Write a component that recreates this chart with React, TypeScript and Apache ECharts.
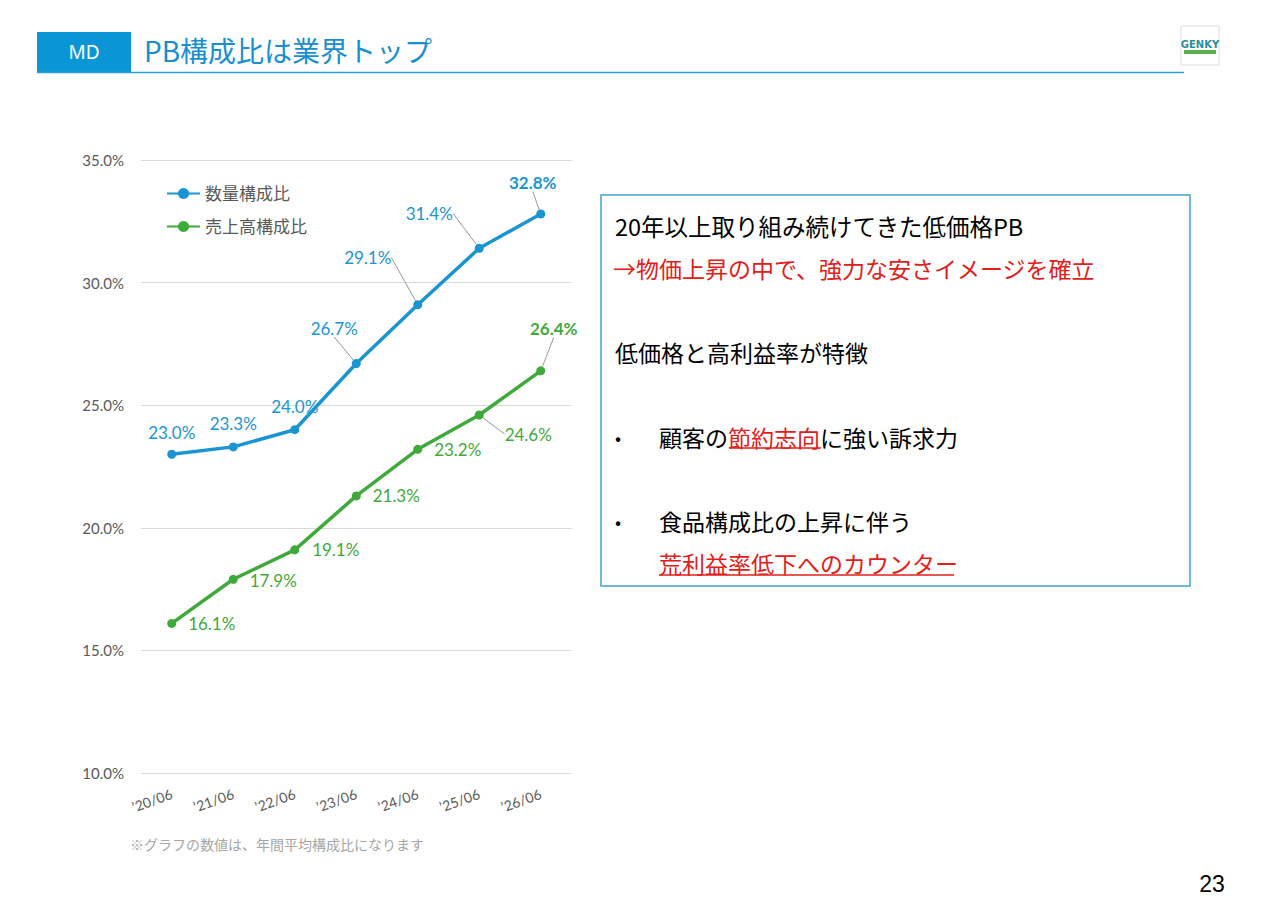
import React, { useEffect, useRef } from "react";
import * as echarts from "echarts";

const categories = ["’20/06", "’21/06", "’22/06", "’23/06", "’24/06", "’25/06", "’26/06"];
const qtyRatio = [23.0, 23.3, 24.0, 26.7, 29.1, 31.4, 32.8];
const salesRatio = [16.1, 17.9, 19.1, 21.3, 23.2, 24.6, 26.4];
const seriesNames = ["数量構成比", "売上高構成比"];
const yMin = 10;
const yMax = 35;
const yStep = 5;

// label centre offsets from each point (layout only)
const qtyLabelOffsets: [number, number][] = [
  [0, -22], [0, -23], [0, -23], [-22, -35], [-50, -47], [-50, -35], [-8, -31],
];
const salesLabelOffsets: [number, number][] = [
  [40, 0], [40, 1], [41, 0], [40, 0], [40, 0], [49, 19], [13, -42],
];
const qtyLeader = [3, 4, 5, 6];
const salesLeader = [5, 6];
const boldIndex = 6;

const BLUE = "#1b94d2";
const GREEN = "#3fa93a";
const RED = "#e0201a";
const GRAY = "#595959";
const FONT = "Lato, 'Noto Sans CJK JP', sans-serif";
const JP = "'Noto Sans CJK JP', sans-serif";

function buildSeries(
  name: string,
  values: number[],
  color: string,
  offsets: [number, number][],
  leaders: number[]
) {
  return {
    type: "line",
    name,
    data: values.map((v, i) => ({
      value: v,
      label: i === boldIndex ? { fontWeight: "bold" } : undefined,
      labelLine: leaders.includes(i)
        ? { show: true, lineStyle: { color: "#9a9a9a", width: 1 } }
        : undefined,
    })),
    symbol: "circle",
    symbolSize: 9,
    lineStyle: { width: 3.5, color },
    itemStyle: { color },
    emphasis: { disabled: true },
    label: {
      show: true,
      color,
      fontSize: 17,
      fontFamily: FONT,
      formatter: (p: any) => Number(p.value).toFixed(1) + "%",
    },
    labelLine: { show: false, lineStyle: { color: "#9a9a9a", width: 1 } },
    labelLayout: (p: any) => {
      const o = offsets[p.dataIndex] || [0, 0];
      return {
        x: p.rect.x + p.rect.width / 2 + o[0],
        y: p.rect.y + p.rect.height / 2 + o[1],
        align: "center",
        verticalAlign: "middle",
      };
    },
  };
}

function txt(x: number, y: number, text: string, fill: string, size: number, extra: any = {}) {
  return {
    type: "text",
    x,
    y,
    style: {
      text,
      fill,
      fontSize: size,
      fontFamily: JP,
      verticalAlign: "middle",
      align: "left",
      ...extra,
    },
  };
}

export default function App() {
  const ref = useRef<HTMLDivElement>(null);
  useEffect(() => {
    if (!ref.current) return;
    const chart = echarts.init(ref.current, undefined, { renderer: "svg" });
    chart.setOption({
      animation: false,
      backgroundColor: "#ffffff",
      textStyle: { fontFamily: FONT },
      grid: { left: 141, right: 708.5, top: 160, bottom: 131, containLabel: false },
      legend: {
        orient: "vertical",
        left: 166,
        top: 185,
        padding: 0,
        itemWidth: 33,
        itemHeight: 14,
        itemGap: 16,
        data: seriesNames,
        textStyle: { color: GRAY, fontSize: 17, fontFamily: FONT },
      },
      xAxis: {
        type: "category",
        data: categories,
        boundaryGap: true,
        axisLine: { show: false },
        axisTick: { show: false },
        axisLabel: { rotate: 20, margin: 20, color: GRAY, fontSize: 14, fontFamily: FONT },
      },
      yAxis: {
        type: "value",
        min: yMin,
        max: yMax,
        interval: yStep,
        axisLine: { show: false },
        axisTick: { show: false },
        splitLine: { lineStyle: { color: "#d9d9d9", width: 1 } },
        axisLabel: {
          margin: 17,
          color: GRAY,
          fontSize: 15,
          fontFamily: FONT,
          formatter: (v: number) => v.toFixed(1) + "%",
        },
      },
      series: [
        buildSeries(seriesNames[0], qtyRatio, BLUE, qtyLabelOffsets, qtyLeader),
        buildSeries(seriesNames[1], salesRatio, GREEN, salesLabelOffsets, salesLeader),
      ],
      graphic: {
        elements: [
          // header
          { type: "rect", shape: { x: 37, y: 32, width: 94, height: 40 }, style: { fill: "#0a96d6" } },
          txt(84, 52, "MD", "#ffffff", 19, { align: "center", fontFamily: "'Noto Sans', sans-serif" }),
          txt(144, 50, "PB構成比は業界トップ", "#1a8fcf", 28),
          { type: "line", shape: { x1: 37, y1: 72.5, x2: 1184, y2: 72.5 }, style: { stroke: "#2a9ed6", lineWidth: 1.5 } },
          // logo
          { type: "rect", shape: { x: 1181, y: 26, width: 38, height: 39 }, style: { fill: "#ffffff", stroke: "#dddddd", lineWidth: 1 } },
          txt(1200, 44, "GENKY", "#2a8f9a", 10, { align: "center", fontWeight: "bold", fontFamily: "'DejaVu Sans', sans-serif" }),
          { type: "rect", shape: { x: 1184, y: 50, width: 32, height: 4 }, style: { fill: "#58b04a" } },
          // footnote & page number
          txt(130, 844, "※グラフの数値は、年間平均構成比になります", "#a6a6a6", 14),
          txt(1212, 884, "23", "#000000", 23, { align: "center", fontFamily: "'Liberation Sans', sans-serif" }),
          // right box
          { type: "rect", shape: { x: 601, y: 195, width: 589, height: 391 }, style: { fill: "none", stroke: "#3fa5cc", lineWidth: 1.5 } },
          txt(615, 226, "20年以上取り組み続けてきた低価格PB", "#000000", 23.5),
          txt(613, 268, "→物価上昇の中で、強力な安さイメージを確立", RED, 23),
          txt(615, 352, "低価格と高利益率が特徴", "#000000", 23),
          txt(615, 437, "•", "#000000", 18),
          txt(659, 437, "顧客の", "#000000", 23),
          txt(728, 437, "節約志向", RED, 23),
          txt(820, 437, "に強い訴求力", "#000000", 23),
          { type: "line", shape: { x1: 729, y1: 448, x2: 821, y2: 448 }, style: { stroke: RED, lineWidth: 1.5 } },
          txt(615, 521, "•", "#000000", 18),
          txt(659, 521, "食品構成比の上昇に伴う", "#000000", 23),
          txt(659, 563, "荒利益率低下へのカウンター", RED, 23),
          { type: "line", shape: { x1: 659, y1: 575, x2: 954, y2: 575 }, style: { stroke: RED, lineWidth: 1.5 } },
        ],
      },
    });
    return () => chart.dispose();
  }, []);
  return (
    <div
      ref={ref}
      style={{ position: "absolute", left: 0, top: 0, width: 1280, height: 904, background: "#fff" }}
    />
  );
}
